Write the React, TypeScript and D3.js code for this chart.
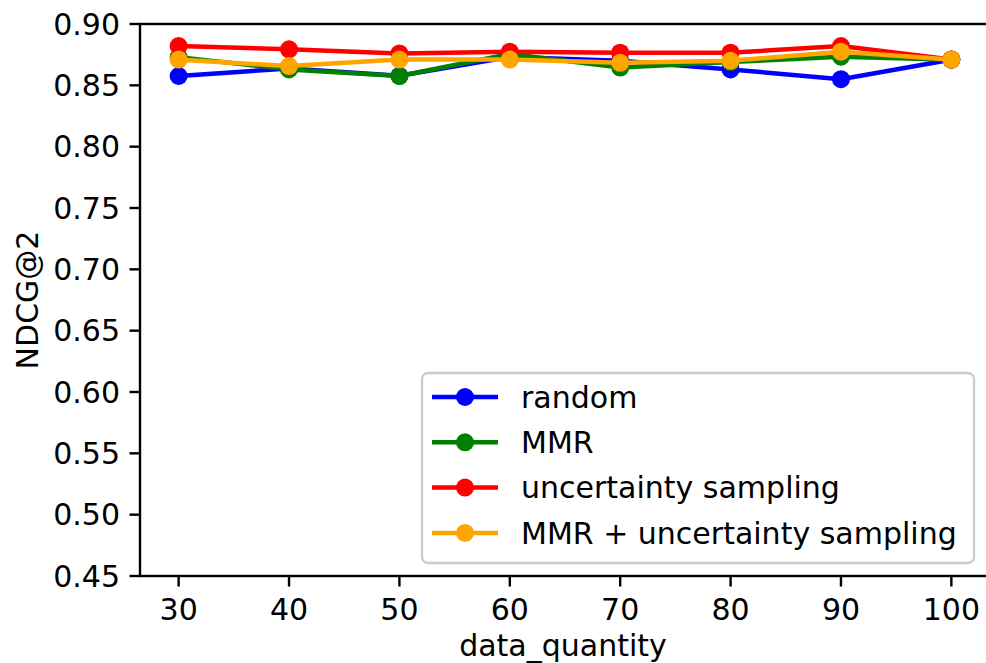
import React from "react";
import * as d3 from "d3";

const quantities = [30, 40, 50, 60, 70, 80, 90, 100];
const randomScores = [0.8576, 0.8638, 0.8578, 0.873, 0.870, 0.863, 0.855, 0.871];
const mmrScores = [0.873, 0.863, 0.8576, 0.8755, 0.8645, 0.869, 0.8733, 0.871];
const uncertaintyScores = [0.882, 0.8794, 0.876, 0.8774, 0.8766, 0.8766, 0.882, 0.871];
const mmrUncertaintyScores = [0.871, 0.8657, 0.871, 0.871, 0.8684, 0.870, 0.8774, 0.871];
const yTicks = [0.45, 0.5, 0.55, 0.6, 0.65, 0.7, 0.75, 0.8, 0.85, 0.9];

const series = [
  { name: "random", color: "#0000ff", values: randomScores },
  { name: "MMR", color: "#008000", values: mmrScores },
  { name: "uncertainty sampling", color: "#ff0000", values: uncertaintyScores },
  { name: "MMR + uncertainty sampling", color: "#ffa500", values: mmrUncertaintyScores },
];

const W = 986;
const H = 663;
const left = 140;
const right = 990;
const top = 24;
const bottom = 576;
const font = "DejaVu Sans, sans-serif";
const fs = 30;

export default function App() {
  const x = d3.scaleLinear().domain([26.5, 103.5]).range([left, right]);
  const y = d3.scaleLinear().domain([0.45, 0.9]).range([bottom, top]);
  const line = d3
    .line<number>()
    .x((_, i) => x(quantities[i]))
    .y(d => y(d));

  const legX = 422;
  const legY = 373;
  const rowH = 45.3;

  return (
    <div style={{ position: "fixed", left: 0, top: 0 }}>
      <svg width={W} height={H} style={{ display: "block", background: "#fff" }}>
        {series.map(s => (
          <g key={s.name}>
            <path d={line(s.values) || ""} fill="none" stroke={s.color} strokeWidth={4.5} strokeLinejoin="round" strokeLinecap="square" />
            {s.values.map((v, i) => (
              <circle key={i} cx={x(quantities[i])} cy={y(v)} r={9} fill={s.color} />
            ))}
          </g>
        ))}

        {/* spines */}
        <rect x={left} y={top} width={right - left} height={bottom - top} fill="none" stroke="#000" strokeWidth={2.4} />

        {/* y axis */}
        {yTicks.map(t => (
          <g key={t} transform={`translate(0,${y(t)})`}>
            <line x1={left - 10.5} x2={left} stroke="#000" strokeWidth={2.4} />
            <text x={left - 20} dy="0.36em" textAnchor="end" fontFamily={font} fontSize={fs}>
              {t.toFixed(2)}
            </text>
          </g>
        ))}
        <text
          transform={`translate(38,${(top + bottom) / 2}) rotate(-90)`}
          textAnchor="middle"
          fontFamily={font}
          fontSize={fs}
        >
          NDCG@2
        </text>

        {/* x axis */}
        {quantities.map(q => (
          <g key={q} transform={`translate(${x(q)},${bottom})`}>
            <line y1={0} y2={10.5} stroke="#000" strokeWidth={2.4} />
            <text y={44} textAnchor="middle" fontFamily={font} fontSize={fs}>
              {q}
            </text>
          </g>
        ))}
        <text x={563} y={656} textAnchor="middle" fontFamily={font} fontSize={fs}>
          data_quantity
        </text>

        {/* legend */}
        <rect x={legX} y={legY} width={552} height={190} rx={6} fill="#fff" fillOpacity={0.8} stroke="#cccccc" strokeWidth={2.4} />
        {series.map((s, i) => {
          const cy = legY + 24 + i * rowH;
          return (
            <g key={s.name}>
              <line x1={legX + 10} x2={legX + 76} y1={cy} y2={cy} stroke={s.color} strokeWidth={4.5} />
              <circle cx={legX + 43} cy={cy} r={9} fill={s.color} />
              <text x={legX + 99} y={cy} dy="0.36em" fontFamily={font} fontSize={fs}>
                {s.name}
              </text>
            </g>
          );
        })}
      </svg>
    </div>
  );
}
